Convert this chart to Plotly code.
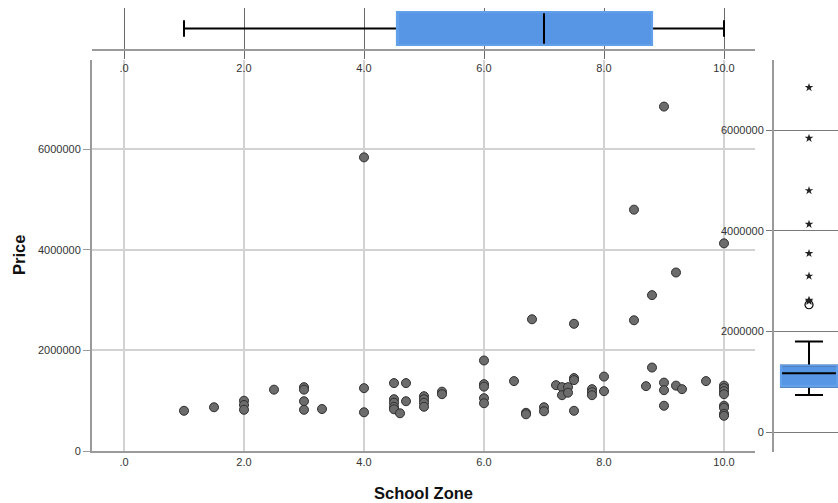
import plotly.graph_objects as go

# ---- data ----
school_zone = [1.0, 1.5, 2.0, 2.0, 2.0, 2.5, 3.0, 3.0, 3.0, 3.0, 3.3,
               4.0, 4.0, 4.0, 4.5, 4.5, 4.5, 4.5, 4.5, 4.6, 4.7, 4.7,
               5.0, 5.0, 5.0, 5.0, 5.3, 5.3,
               6.0, 6.0, 6.0, 6.0, 6.0, 6.5, 6.7, 6.7, 6.8, 7.0, 7.0,
               7.2, 7.3, 7.3, 7.4, 7.4, 7.5, 7.5, 7.5, 7.5,
               7.8, 7.8, 7.8, 8.0, 8.0, 8.5, 8.5, 8.7, 8.8, 8.8,
               9.0, 9.0, 9.0, 9.0, 9.2, 9.2, 9.3, 9.7,
               10.0, 10.0, 10.0, 10.0, 10.0, 10.0, 10.0, 10.0, 10.0]
price = [800000, 870000, 1000000, 915000, 820000, 1220000, 1270000, 1220000, 990000, 820000, 835000,
         5840000, 1250000, 770000, 1350000, 1030000, 960000, 880000, 830000, 750000, 1350000, 990000,
         1090000, 1030000, 960000, 880000, 1180000, 1130000,
         1800000, 1330000, 1280000, 1050000, 950000, 1390000, 760000, 730000, 2620000, 870000, 790000,
         1310000, 1270000, 1110000, 1270000, 1160000, 2530000, 1450000, 1410000, 800000,
         1230000, 1170000, 1110000, 1480000, 1190000, 4800000, 2600000, 1290000, 3100000, 1660000,
         6850000, 1360000, 1210000, 900000, 3550000, 1300000, 1230000, 1390000,
         4130000, 1300000, 1250000, 1190000, 1130000, 900000, 860000, 740000, 700000]

# box-plot statistics
zone_box = {"q1": 4.55, "median": 7.0, "q3": 8.8, "lo": 1.0, "hi": 10.0}
price_box = {"q1": 900000, "median": 1167000, "q3": 1318000, "lo": 735000, "hi": 1800000}

x_ticks = [0, 2, 4, 6, 8, 10]
x_ticktext = [".0", "2.0", "4.0", "6.0", "8.0", "10.0"]
y_ticks = [0, 2000000, 4000000, 6000000]
y_ticktext = ["0", "2000000", "4000000", "6000000"]

x_title = "School Zone"
y_title = "Price"

BLUE = "#5795E5"
W, H = 838, 503

def px_x(p):
    return p / W

def px_y(p):
    return (H - p) / H

iqr = price_box["q3"] - price_box["q1"]
mild_lim = price_box["q3"] + 1.5 * iqr
ext_lim = price_box["q3"] + 3 * iqr
extreme = [p for p in price if p > ext_lim]
mild = [p for p in price if mild_lim < p <= ext_lim]

fig = go.Figure()

# main scatter
fig.add_trace(go.Scatter(
    x=school_zone, y=price, mode="markers",
    marker=dict(size=9, color="#6c6c6c", line=dict(color="#2e2e2e", width=1)),
    xaxis="x", yaxis="y", showlegend=False, hoverinfo="x+y"))

# top (school zone) box
fig.add_trace(go.Box(
    y=[0], q1=[zone_box["q1"]], median=[zone_box["median"]], q3=[zone_box["q3"]],
    lowerfence=[zone_box["lo"]], upperfence=[zone_box["hi"]], orientation="h",
    fillcolor=BLUE, line=dict(color="black", width=2), whiskerwidth=0.5, width=0.8,
    boxpoints=False, xaxis="x2", yaxis="y2", showlegend=False))
fig.add_trace(go.Box(
    y=[0], q1=[zone_box["q1"]], median=[zone_box["q1"]], q3=[zone_box["q3"]],
    lowerfence=[zone_box["q1"]], upperfence=[zone_box["q3"]], orientation="h",
    fillcolor="rgba(0,0,0,0)", line=dict(color="#62A0EA", width=2.2), whiskerwidth=0, width=0.8,
    boxpoints=False, xaxis="x2", yaxis="y2", showlegend=False, hoverinfo="skip"))

# right (price) box
fig.add_trace(go.Box(
    x=[0], q1=[price_box["q1"]], median=[price_box["median"]], q3=[price_box["q3"]],
    lowerfence=[price_box["lo"]], upperfence=[price_box["hi"]],
    fillcolor=BLUE, line=dict(color="black", width=2), whiskerwidth=0.5, width=0.875,
    boxpoints=False, xaxis="x3", yaxis="y3", showlegend=False))
fig.add_trace(go.Box(
    x=[0], q1=[price_box["q1"]], median=[price_box["q1"]], q3=[price_box["q3"]],
    lowerfence=[price_box["q1"]], upperfence=[price_box["q3"]],
    fillcolor="rgba(0,0,0,0)", line=dict(color="#62A0EA", width=2.2), whiskerwidth=0, width=0.875,
    boxpoints=False, xaxis="x3", yaxis="y3", showlegend=False, hoverinfo="skip"))
fig.add_trace(go.Scatter(
    x=[0] * len(mild), y=mild, mode="markers",
    marker=dict(symbol="circle-open", size=8, color="black", line=dict(width=1.2)),
    xaxis="x3", yaxis="y3", showlegend=False))
fig.add_trace(go.Scatter(
    x=[0] * len(extreme), y=extreme, mode="markers",
    marker=dict(symbol="star", size=6.5, color="#222"),
    xaxis="x3", yaxis="y3", showlegend=False))

font_tick = dict(family="Liberation Sans, Arial, sans-serif", size=11, color="#333")
title_font = dict(family="Liberation Sans, Arial, sans-serif", size=16.5, color="#111")

x_range = [(92 - 124) / 60, (755 - 124) / 60]

fig.update_layout(
    width=W, height=H, margin=dict(l=0, r=0, t=0, b=0, autoexpand=False),
    paper_bgcolor="white", plot_bgcolor="rgba(0,0,0,0)",
    xaxis=dict(domain=[px_x(92), px_x(755)], range=x_range, anchor="y", automargin=False,
               tickvals=x_ticks, ticktext=x_ticktext, tickfont=font_tick,
               showgrid=True, gridcolor="#d2d2d2", gridwidth=1.5, zeroline=False,
               showline=True, linecolor="#9a9a9a", linewidth=2, ticks=""),
    yaxis=dict(domain=[px_y(451), px_y(60)], range=[0, (451 - 60) / 50.28 * 1e6], anchor="x",
               automargin=False,
               tickvals=y_ticks, ticktext=y_ticktext, tickfont=font_tick,
               showgrid=True, gridcolor="#d2d2d2", gridwidth=1.5, zeroline=False,
               showline=True, linecolor="#9a9a9a", linewidth=2,
               ticks="outside", ticklen=7, tickcolor="#9a9a9a"),
    xaxis2=dict(domain=[px_x(92), px_x(755)], range=x_range, anchor="y2", automargin=False,
                tickvals=x_ticks, ticktext=x_ticktext, tickfont=font_tick,
                showgrid=True, gridcolor="#6a6a6a", gridwidth=1.2, zeroline=False,
                showline=True, linecolor="#9a9a9a", linewidth=2,
                ticks="outside", ticklen=8, tickcolor="#6a6a6a"),
    yaxis2=dict(domain=[px_y(49), px_y(8)], range=[-0.5, 0.5], anchor="x2",
                visible=False, automargin=False),
    xaxis3=dict(domain=[px_x(774), 1.0], range=[-0.547, 0.453], anchor="y3",
                visible=False, automargin=False),
    yaxis3=dict(domain=[px_y(452), px_y(60)],
                range=[-(452 - 432) / 50.3 * 1e6, (432 - 60) / 50.3 * 1e6], anchor="x3",
                automargin=False,
                tickvals=y_ticks, ticktext=y_ticktext, tickfont=font_tick,
                showgrid=True, gridcolor="#7a7a7a", gridwidth=1.2, zeroline=False,
                showline=True, linecolor="#9a9a9a", linewidth=2,
                ticks="outside", ticklen=6, tickcolor="#7a7a7a"),
    annotations=[
        dict(text=f"<b>{x_title}</b>", xref="paper", yref="paper", x=px_x(424), y=px_y(493),
             xanchor="center", yanchor="middle", showarrow=False, font=title_font),
        dict(text=f"<b>{y_title}</b>", xref="paper", yref="paper", x=px_x(19), y=px_y(255),
             xanchor="center", yanchor="middle", showarrow=False, font=title_font, textangle=-90),
    ],
)

fig.write_html("out.html")
